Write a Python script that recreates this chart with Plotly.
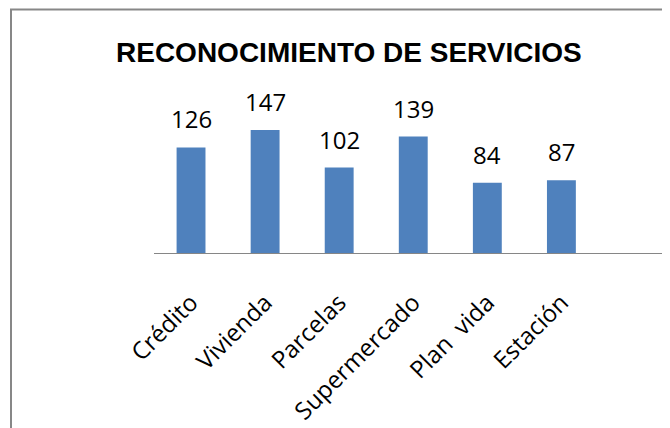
import plotly.graph_objects as go

categories = ["Crédito", "Vivienda", "Parcelas", "Supermercado", "Plan  vida", "Estación"]
values = [126, 147, 102, 139, 84, 87]
title_text = "RECONOCIMIENTO DE SERVICIOS"

# The page body has an 8px margin; the figure is sized/placed so that
# screen pixel positions match the reference.
OFF = 8
W, H = 670 - OFF, 428 - OFF
ML, MR, MT, MB = 154 - OFF, 0, 119 - OFF, 175
PW = W - ML - MR
PH = H - MT - MB

def px_x(px):
    return (px - OFF - ML) / PW

def px_y(py):
    return (H - MB - (py - OFF)) / PH

fig = go.Figure()
fig.add_trace(go.Bar(
    x=categories, y=values, width=0.39,
    marker=dict(color="#4F81BD", line=dict(width=0)),
    hoverinfo="x+y",
))

for c, v in zip(categories, values):
    fig.add_annotation(
        x=c, y=v, text=str(v), showarrow=False,
        xref="x", yref="y", yanchor="bottom", yshift=10,
        font=dict(family="Open Sans, Liberation Sans, sans-serif", size=24, color="#000000"),
    )

fig.add_annotation(
    x=px_x(349), y=px_y(53), xref="paper", yref="paper",
    text="<b>" + title_text + "</b>", showarrow=False,
    xanchor="center", yanchor="middle",
    font=dict(family="Liberation Sans, Arial, sans-serif", size=28, color="#000000"),
)

fig.add_shape(
    type="rect", xref="paper", yref="paper",
    x0=px_x(11), x1=px_x(700), y0=px_y(9.5), y1=px_y(460),
    line=dict(color="#878787", width=2), fillcolor="rgba(0,0,0,0)", layer="below",
)

fig.update_layout(
    width=W, height=H,
    margin=dict(l=ML, r=MR, t=MT, b=MB, pad=0, autoexpand=False),
    paper_bgcolor="white", plot_bgcolor="white",
    showlegend=False,
    bargap=0.6,
    xaxis=dict(
        type="category", range=[-0.5, 6.466], automargin=False,
        showline=True, linecolor="#868686", linewidth=1,
        showgrid=False, zeroline=False,
        ticks="outside", ticklen=25, tickcolor="rgba(0,0,0,0)",
        tickangle=-45,
        tickfont=dict(family="Open Sans, sans-serif", size=24, color="#000000"),
    ),
    yaxis=dict(
        range=[0, 160], visible=False, showgrid=False, zeroline=False,
        automargin=False,
    ),
)

fig.write_html("out.html", config={"displayModeBar": False})
